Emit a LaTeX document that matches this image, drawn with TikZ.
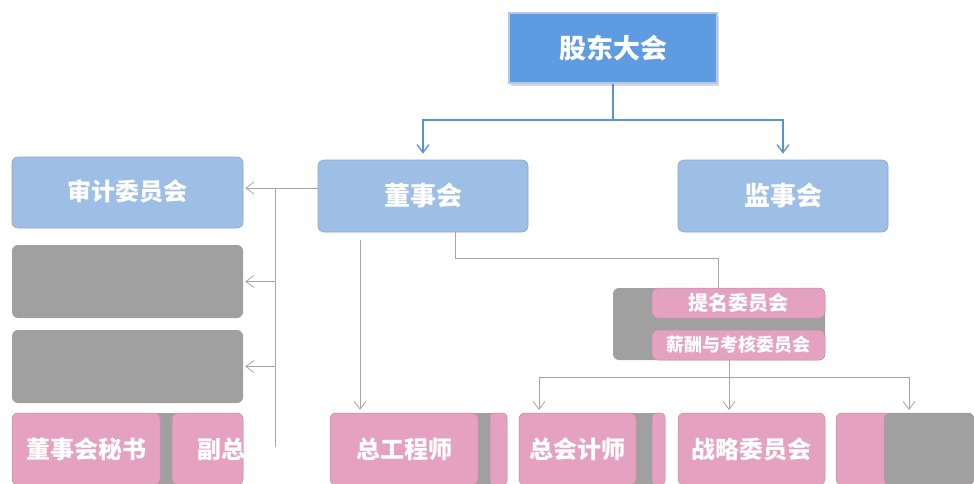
\documentclass[tikz,border=0pt]{standalone}
\usepackage{fontspec}
\setmainfont{Noto Sans CJK SC}
\usetikzlibrary{arrows.meta,shadows}
\definecolor{topblue}{HTML}{5E9BE1}
\definecolor{topedge}{HTML}{B4C9E6}
\definecolor{lblue}{HTML}{9DBFE5}
\definecolor{lbedge}{HTML}{8FA6C4}
\definecolor{gbox}{HTML}{A0A0A0}
\definecolor{pbox}{HTML}{E4A1C0}
\definecolor{pedge}{HTML}{C98AA8}
\definecolor{gline}{HTML}{A6A6A6}
\definecolor{bline}{HTML}{5B8FD6}
\tikzset{
  txt/.style={text=white,font=\bfseries\fontsize{24}{28}\selectfont},
  topbox/.style={draw=topedge,line width=2pt,fill=topblue,inner sep=0pt,
    drop shadow={shadow xshift=2pt,shadow yshift=-3pt,fill=black!30,opacity=.5},
    text=white,font=\bfseries\fontsize{27}{32}\selectfont},
  bluebox/.style={draw=lbedge,line width=0.6pt,fill=lblue,rounded corners=6pt,inner sep=0pt,txt,text depth=4pt},
  graybox/.style={fill=gbox,rounded corners=6pt,inner sep=0pt},
  pinkbox/.style={draw=pedge,line width=0.5pt,fill=pbox,rounded corners=6pt,inner sep=0pt,txt},
  bconn/.style={draw=bline,line width=1.3pt},
  gconn/.style={draw=gline,line width=0.8pt},
  tip/.style={-{Straight Barb[length=8pt,width=12pt]}},
}
\begin{document}
\begin{tikzpicture}[x=1pt,y=-1pt]
\useasboundingbox (0,0) rectangle (974,484);
% top level
\node[topbox,minimum width=208pt,minimum height=70pt] (gd) at (613,48) {股东大会};
\node[bluebox,minimum width=210pt,minimum height=72pt,font=\bfseries\fontsize{26}{30}\selectfont] (dsh) at (423,196) {董事会};
\node[bluebox,minimum width=210pt,minimum height=72pt,font=\bfseries\fontsize{26}{30}\selectfont] (jsh) at (783,196) {监事会};
% left column
\node[bluebox,minimum width=231pt,minimum height=71pt] (sj) at (127.5,192.5) {审计委员会};
\node[graybox,minimum width=231pt,minimum height=73pt] (g1) at (127.5,281.5) {};
\node[graybox,minimum width=231pt,minimum height=73pt] (g2) at (127.5,366.5) {};
% right middle group
\node[graybox,minimum width=212pt,minimum height=72pt] (grp) at (719,324) {};
\node[pinkbox,minimum width=173pt,minimum height=30pt,font=\bfseries\fontsize{20}{24}\selectfont] (tm) at (738.5,303) {提名委员会};
\node[pinkbox,minimum width=173pt,minimum height=30pt,font=\bfseries\fontsize{18}{22}\selectfont] (xc) at (738.5,345) {薪酬与考核委员会};
% bottom row
\node[graybox,minimum width=231pt,minimum height=72pt] (ca) at (127.5,449) {};
\node[pinkbox,minimum width=148pt,minimum height=72pt] (ms) at (86,449) {董事会秘书};
\node[pinkbox,minimum width=71pt,minimum height=72pt] (fz) at (207.5,449) {};
\begin{scope}
\clip (fz.south west) rectangle (fz.north east);
\node[txt,anchor=west] (fzt) at ([xshift=22pt]fz.west) {副总经理};
\end{scope}
\node[graybox,minimum width=177pt,minimum height=72pt] (cb) at (418.5,449) {};
\node[pinkbox,minimum width=148pt,minimum height=72pt] (zg) at (404,449) {总工程师};
\node[pinkbox,minimum width=17pt,minimum height=72pt,rounded corners=4pt] (sb) at (498.5,449) {};
\node[graybox,minimum width=146pt,minimum height=72pt] (cc) at (592,449) {};
\node[pinkbox,minimum width=117pt,minimum height=72pt] (zk) at (577.5,449) {总会计师};
\node[pinkbox,minimum width=13pt,minimum height=72pt,rounded corners=4pt] (sc) at (658.5,449) {};
\node[pinkbox,minimum width=147pt,minimum height=72pt] (zl) at (751.5,449) {战略委员会};
\node[pinkbox,minimum width=138pt,minimum height=72pt] (last) at (905,449) {};
\fill[gbox,rounded corners=6pt] (884,413) rectangle (974,485);
% blue connectors
\coordinate (bj) at (613,120);
\draw[bconn] (gd.south) -- (bj);
\draw[bconn,tip,shorten >=6pt] (bj) -| (dsh.north);
\draw[bconn,tip,shorten >=6pt] (bj) -| (jsh.north);
% left connectors
\coordinate (v0) at (275,188);
\coordinate (v1) at (275,447);
\draw[gconn,tip,shorten >=2pt] (dsh.west |- v0) -- (sj.east |- v0);
\draw[gconn] (v0) -- (v1);
\draw[gconn,tip,shorten >=2pt] (v0 |- g1.east) -- (g1.east);
\draw[gconn,tip,shorten >=2pt] (v0 |- g2.east) -- (g2.east);
% down to 总工程师
\coordinate (d1) at (360,240);
\draw[gconn,tip,shorten >=3pt] (d1) -- (d1 |- zg.north);
% to right group
\coordinate (k1) at (455,258);
\draw[gconn] (dsh.south -| k1) -- (k1) -| (grp.north -| 718,0);
% group to bottom row
\coordinate (k2) at (729,377);
\coordinate (t1) at (539,410);
\coordinate (t2) at (729,410);
\coordinate (t3) at (909,410);
\draw[gconn] (grp.south -| k2) -- (k2);
\draw[gconn,tip] (k2) -| (t1);
\draw[gconn,tip] (k2) -- (t2);
\draw[gconn,tip] (k2) -| (t3);
\end{tikzpicture}
\end{document}
